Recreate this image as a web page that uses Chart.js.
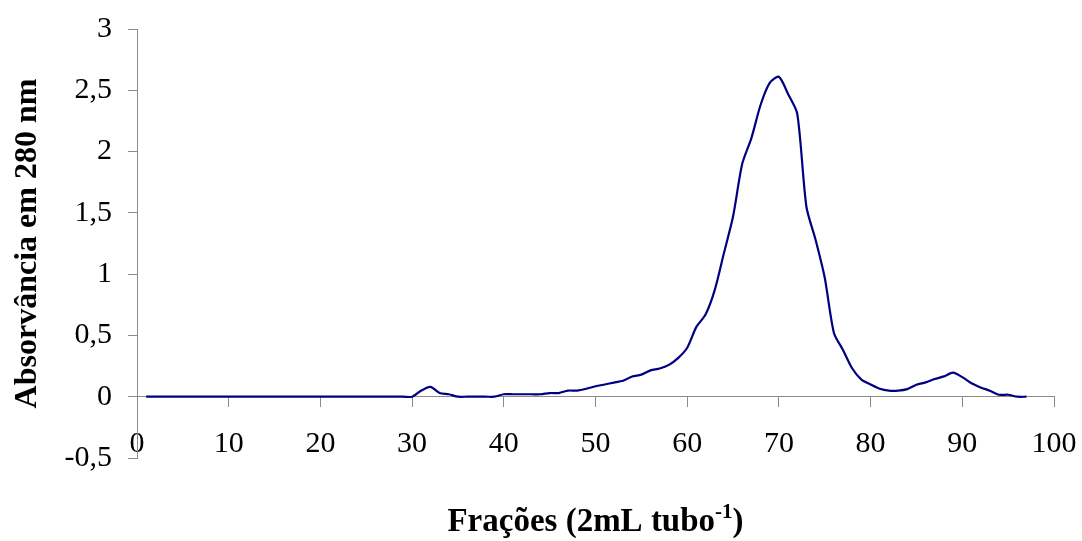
<!DOCTYPE html>
<html>
<head>
<meta charset="utf-8">
<script src="https://cdn.jsdelivr.net/npm/chart.js@4.4.1/dist/chart.umd.min.js"></script>
<style>
  html, body { margin: 0; background: #fff; }
</style>
</head>
<body>
<canvas id="c" width="1082" height="541"></canvas>
<script>
// fraction number (tube) and absorbance at 280 nm
const fractions = [
  1, 2, 3, 4, 5, 6, 7, 8, 9, 10, 11, 12, 13, 14, 15, 16, 17, 18, 19, 20,
  21, 22, 23, 24, 25, 26, 27, 28, 29, 30, 31, 32, 33, 34, 35, 36, 37, 38, 39, 40,
  41, 42, 43, 44, 45, 46, 47, 48, 49, 50, 51, 52, 53, 54, 55, 56, 57, 58, 59, 60,
  61, 62, 63, 64, 65, 66, 67, 68, 69, 70, 71, 72, 73, 74, 75, 76, 77, 78, 79, 80,
  81, 82, 83, 84, 85, 86, 87, 88, 89, 90, 91, 92, 93, 94, 95, 96, 97
];
const absorbance = [
  0, 0, 0, 0, 0, 0, 0, 0, 0, 0, 0, 0, 0, 0, 0, 0, 0, 0, 0, 0,
  0, 0, 0, 0, 0, 0, 0, 0, 0, 0, 0.05, 0.08, 0.03, 0.02, 0, 0, 0, 0, 0, 0.02,
  0.02, 0.02, 0.02, 0.02, 0.03, 0.03, 0.05, 0.05, 0.065, 0.085, 0.10, 0.115, 0.13, 0.165, 0.18, 0.215, 0.23, 0.26, 0.315, 0.40,
  0.57, 0.67, 0.87, 1.17, 1.47, 1.90, 2.11, 2.38, 2.56, 2.61, 2.47, 2.31, 1.55, 1.28, 0.97, 0.52, 0.38, 0.23, 0.14, 0.10,
  0.065, 0.05, 0.05, 0.062, 0.098, 0.117, 0.144, 0.166, 0.196, 0.16, 0.11, 0.076, 0.049, 0.016, 0.016, 0, 0
];

const xTicks = [0, 10, 20, 30, 40, 50, 60, 70, 80, 90, 100];
const yTicks = [-0.5, 0, 0.5, 1, 1.5, 2, 2.5, 3];

const serif = '"Liberation Serif", "Times New Roman", serif';
const axisGray = '#8c8c8c';

const points = fractions.map((f, i) => ({ x: f, y: absorbance[i] }));

// keep the plot area fixed by the layout padding alone
const noPad = s => {
  s.paddingTop = 0; s.paddingBottom = 0;
  s.paddingLeft = 0; s.paddingRight = 0;
};

// x-axis title with a superscript exponent
const xTitle = {
  id: 'xTitle',
  afterDraw(chart) {
    const { ctx, chartArea } = chart;
    const big = 'bold 33px ' + serif;
    const small = 'bold 21px ' + serif;
    const parts = [
      { t: 'Frações (2mL tubo', f: big, dy: 0 },
      { t: '-1', f: small, dy: -13 },
      { t: ')', f: big, dy: 0 }
    ];
    ctx.save();
    ctx.fillStyle = '#000';
    ctx.textBaseline = 'alphabetic';
    let total = 0;
    parts.forEach(p => { ctx.font = p.f; p.w = ctx.measureText(p.t).width; total += p.w; });
    let x = (chartArea.left + chartArea.right) / 2 - total / 2;
    const base = 531;
    parts.forEach(p => {
      ctx.font = p.f;
      ctx.fillText(p.t, x, base + p.dy);
      x += p.w;
    });
    ctx.restore();
  }
};

new Chart(document.getElementById('c'), {
  type: 'line',
  data: {
    datasets: [{
      data: points,
      borderColor: '#000080',
      borderWidth: 2.2,
      pointRadius: 0,
      tension: 0.25,
      fill: false
    }]
  },
  plugins: [xTitle],
  options: {
    responsive: false,
    animation: false,
    layout: { padding: { top: 29, right: 28, bottom: 83, left: 0 } },
    plugins: {
      legend: { display: false },
      tooltip: { enabled: false },
      title: { display: false }
    },
    scales: {
      x: {
        type: 'linear',
        position: { y: 0 },
        min: 0,
        max: 100,
        afterFit: noPad,
        afterBuildTicks: s => { s.ticks = xTicks.map(v => ({ value: v })); },
        grid: { drawOnChartArea: false, drawTicks: true, tickLength: 10, color: axisGray },
        border: { color: axisGray, width: 1 },
        ticks: {
          color: '#000',
          font: { family: serif, size: 30 },
          padding: 19,
          maxRotation: 0,
          autoSkip: false
        }
      },
      y: {
        position: 'left',
        min: -0.5,
        max: 3,
        afterFit: s => { s.width = 137; noPad(s); },
        afterBuildTicks: s => { s.ticks = yTicks.map(v => ({ value: v })); },
        grid: { drawOnChartArea: false, drawTicks: true, tickLength: 9, color: axisGray },
        border: { color: axisGray, width: 1 },
        ticks: {
          color: '#000',
          font: { family: serif, size: 30 },
          padding: 16,
          callback: v => String(v).replace('.', ',')
        },
        title: {
          display: true,
          text: 'Absorvância em 280 nm',
          color: '#000',
          font: { family: serif, size: 32, weight: 'bold' },
          padding: { top: 9, bottom: 0 }
        }
      }
    }
  }
});
</script>
</body>
</html>
